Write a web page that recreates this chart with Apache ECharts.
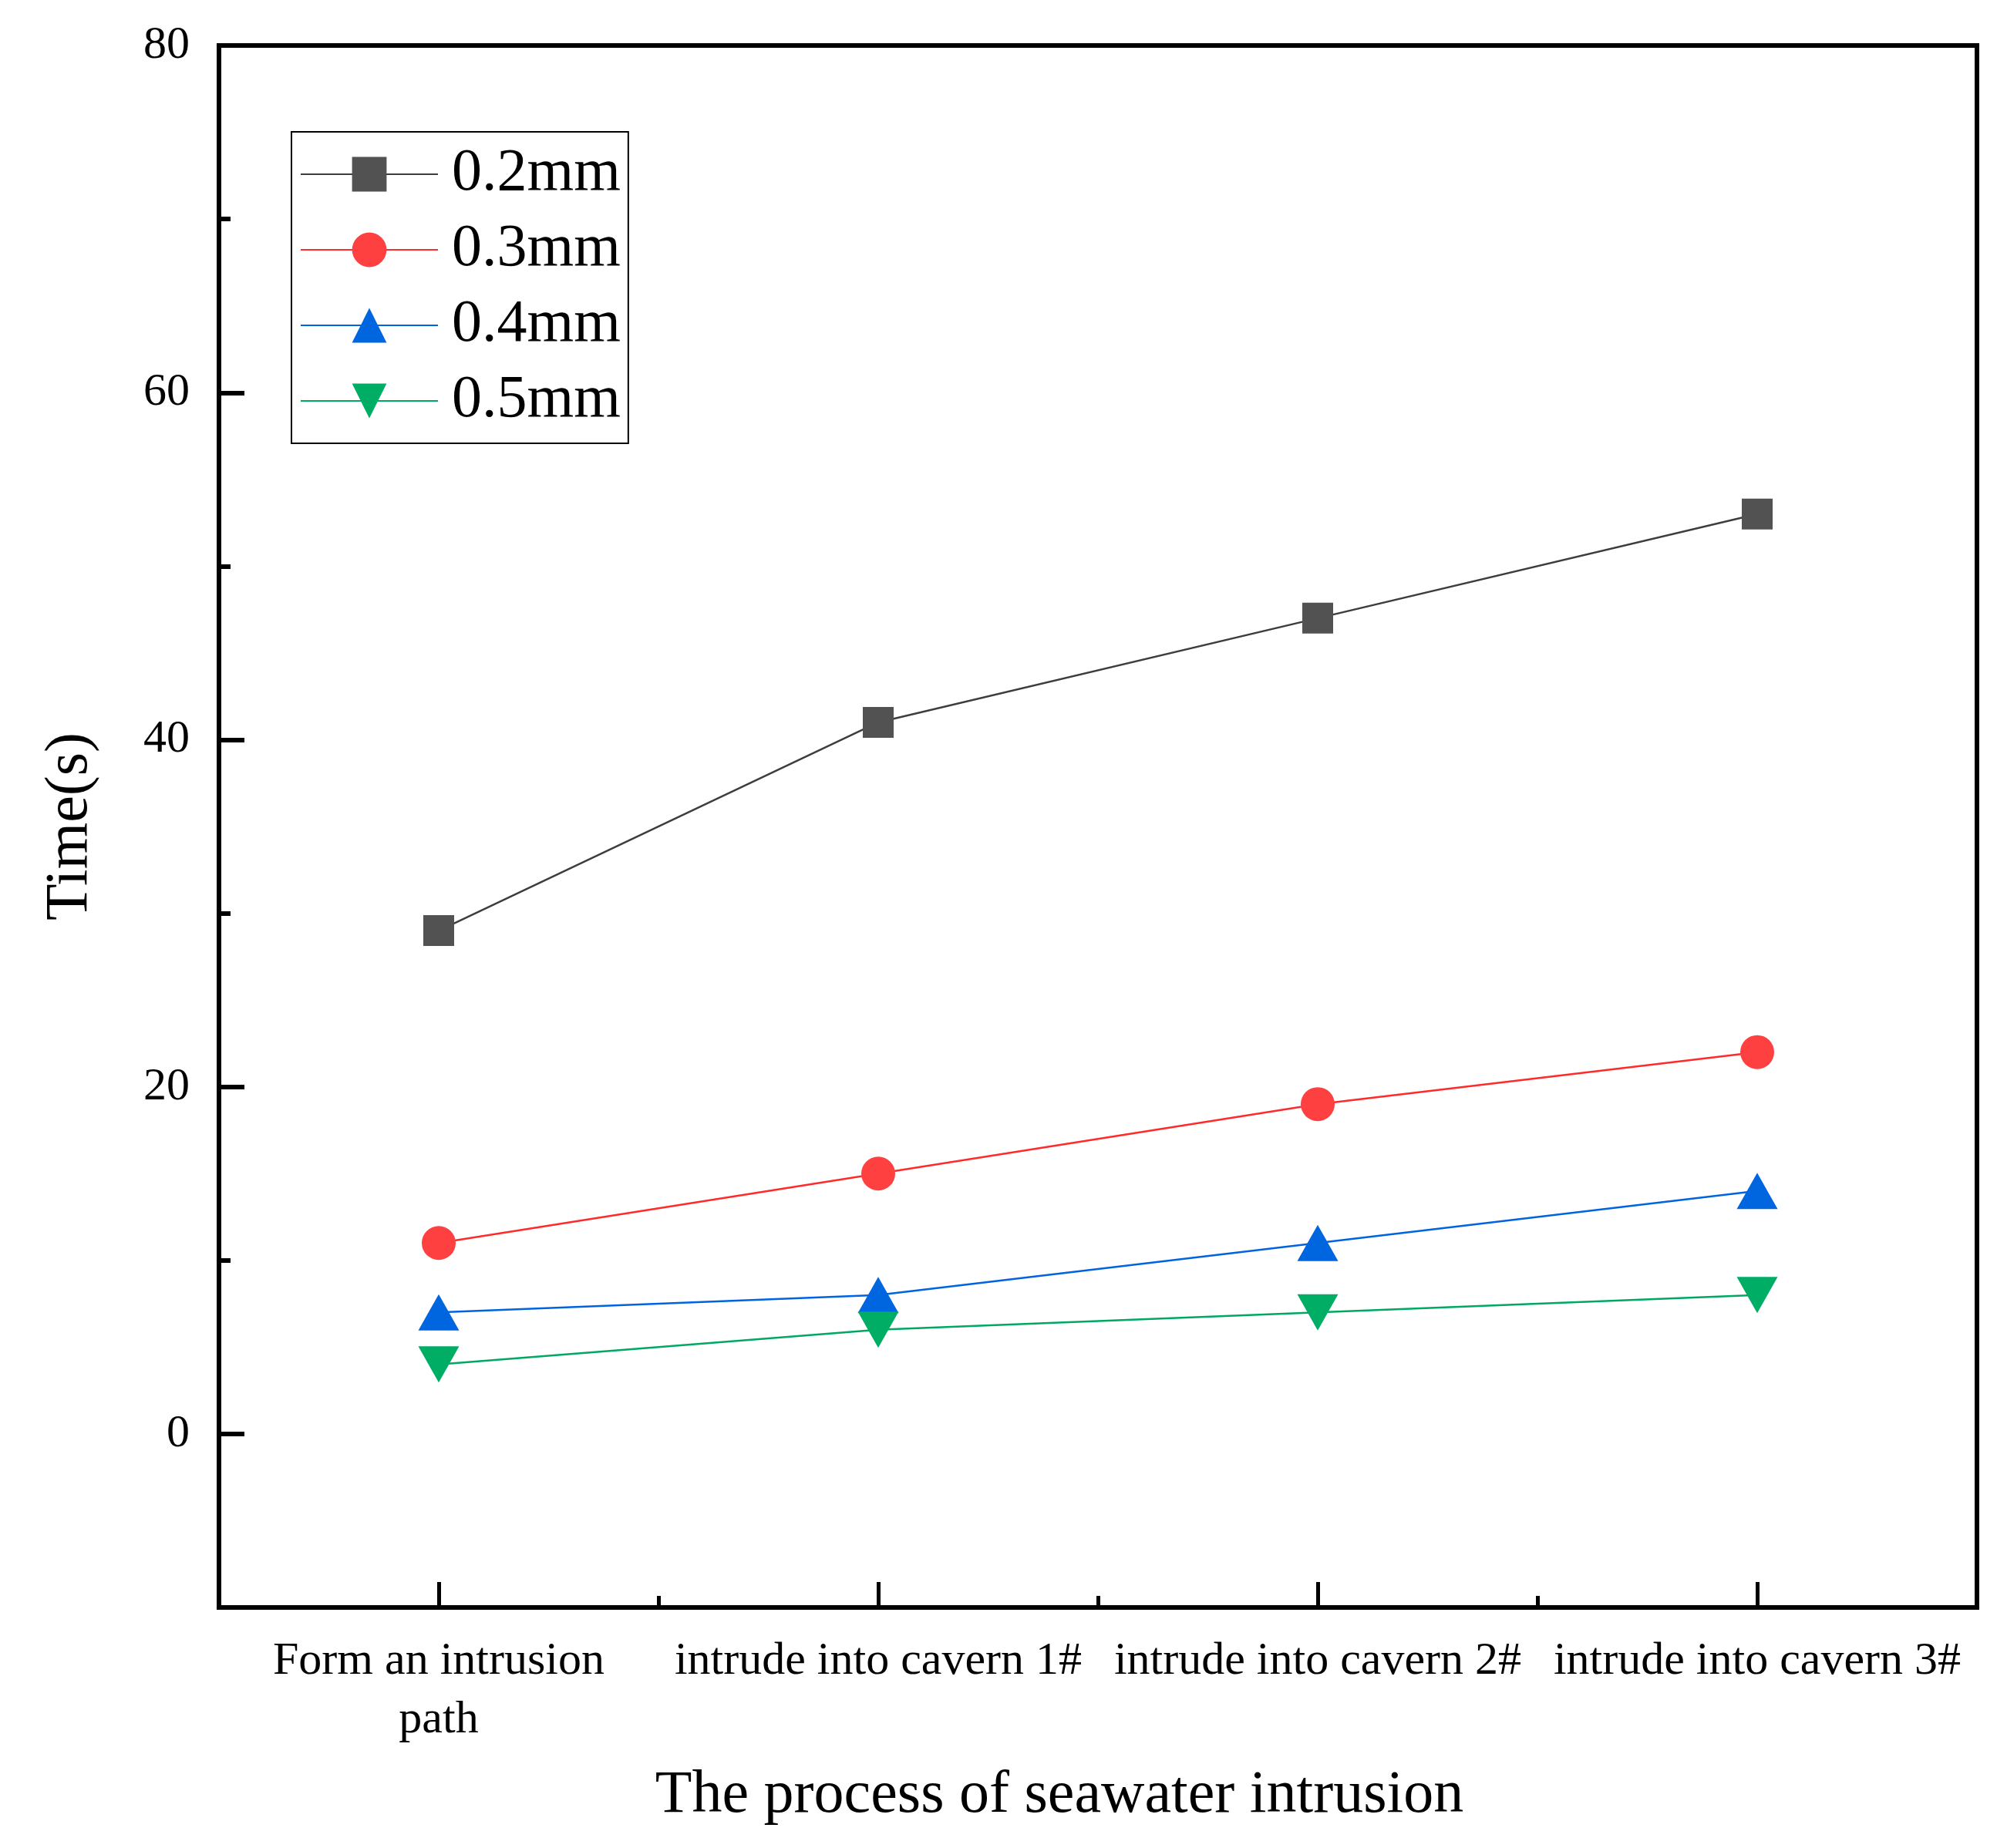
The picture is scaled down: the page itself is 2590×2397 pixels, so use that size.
<!DOCTYPE html>
<html>
<head>
<meta charset="utf-8">
<title>Seawater intrusion time</title>
<script src="https://cdn.jsdelivr.net/npm/echarts@6/dist/echarts.min.js"></script>
<style>
  html, body { margin: 0; padding: 0; background: #fff; }
  #main { width: 2590px; height: 2397px; }
</style>
</head>
<body>
<div id="main"></div>
<script>
// categories on the x axis
var stages = ['Form an intrusion\npath', 'intrude into cavern 1#', 'intrude into cavern 2#', 'intrude into cavern 3#'];
// time (s) for each crack width
var w02 = [29, 41, 47, 53];
var w03 = [11, 15, 19, 22];
var w04 = [7, 8, 11, 14];
var w05 = [4, 6, 7, 8];
var seriesNames = ['0.2mm', '0.3mm', '0.4mm', '0.5mm'];

var font = '"Liberation Serif", "Times New Roman", serif';

var myChart = echarts.init(document.getElementById('main'));

function lineSeries(name, data, lineColor, fillColor, symbol, size, rotate) {
    return {
        name: name,
        type: 'line',
        data: data,
        symbol: symbol,
        symbolSize: size,
        symbolRotate: rotate || 0,
        lineStyle: { color: lineColor, width: 2.5 },
        itemStyle: { color: fillColor, borderColor: fillColor, borderWidth: 0 },
        emphasis: { disabled: true },
        animation: false
    };
}

var option = {
    backgroundColor: '#ffffff',
    textStyle: { fontFamily: font, color: '#000' },
    grid: [
        {
            left: 284, right: 26, top: 59, bottom: 312,
            show: true, borderColor: '#000', borderWidth: 6, backgroundColor: 'transparent'
        },
        // same box, but only the 0..80 part: carries the y ticks and labels
        { left: 284, right: 26, top: 59, bottom: 537, show: false }
    ],
    legend: {
        orient: 'vertical',
        left: 378,
        top: 171,
        data: seriesNames,
        itemWidth: 178,
        itemHeight: 56,
        itemGap: 20,
        padding: [16, 10, 16, 11],
        borderColor: '#000',
        borderWidth: 2,
        textStyle: { fontFamily: font, fontSize: 78, lineHeight: 78, color: '#000', padding: [0, 0, 0, 13] }
    },
    xAxis: [
        {
            type: 'category',
            data: stages,
            boundaryGap: true,
            name: 'The process of seawater intrusion',
            nameLocation: 'middle',
            nameGap: 206,
            nameTextStyle: { fontFamily: font, fontSize: 78, color: '#000', padding: [0, 100, 0, 0] },
            axisLine: { show: true, onZero: false, lineStyle: { color: '#000', width: 6 } },
            axisTick: { show: true, alignWithLabel: true, inside: true, length: 33, lineStyle: { color: '#000', width: 5 } },
            axisLabel: { fontFamily: font, fontSize: 60, lineHeight: 76, color: '#000', margin: 32, interval: 0 },
            splitLine: { show: false }
        },
        {
            type: 'category',
            data: stages,
            boundaryGap: true,
            position: 'bottom',
            axisLine: { show: false, onZero: false },
            axisTick: { show: true, alignWithLabel: false, inside: true, length: 15, lineStyle: { color: '#000', width: 5 } },
            axisLabel: { show: false },
            splitLine: { show: false }
        },
        { type: 'value', gridIndex: 1, show: false }
    ],
    yAxis: [
        {
            type: 'value',
            min: -10,
            max: 80,
            interval: 10,
            name: 'Time(s)',
            nameLocation: 'middle',
            nameGap: 153,
            nameTextStyle: { fontFamily: font, fontSize: 78, color: '#000' },
            axisLine: { show: true, onZero: false, lineStyle: { color: '#000', width: 6 } },
            axisTick: { show: false },
            axisLabel: { show: false },
            splitLine: { show: false }
        },
        {
            type: 'value',
            gridIndex: 1,
            min: 0,
            max: 80,
            interval: 20,
            axisLine: { show: false },
            axisTick: { show: true, inside: true, length: 33, lineStyle: { color: '#000', width: 6 } },
            minorTick: { show: true, splitNumber: 2, length: 15, lineStyle: { color: '#000', width: 6 } },
            axisLabel: { show: true, fontFamily: font, fontSize: 60, color: '#000', margin: 38 },
            splitLine: { show: false },
            minorSplitLine: { show: false }
        }
    ],
    series: [
        lineSeries(seriesNames[0], w02, '#3d3d3d', '#525252', 'rect', 40),
        lineSeries(seriesNames[1], w03, '#ff2b2b', '#ff4040', 'circle', 44),
        lineSeries(seriesNames[2], w04, '#0064e0', '#0066e0', 'triangle', [53, 47]),
        lineSeries(seriesNames[3], w05, '#00a862', '#00ad64', 'triangle', [53, 47], 180)
    ]
};

myChart.setOption(option);
</script>
</body>
</html>
